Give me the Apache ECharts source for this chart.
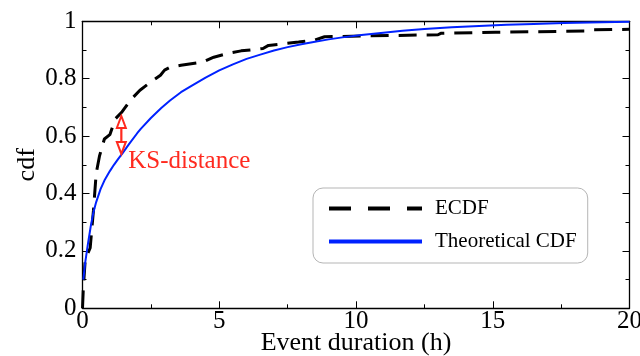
<!DOCTYPE html>
<html>
<head>
<meta charset="utf-8">
<script src="https://cdn.jsdelivr.net/npm/echarts@6/dist/echarts.min.js"></script>
<style>
  html, body { margin: 0; padding: 0; background: #ffffff; }
  #chart { width: 640px; height: 356px; }
</style>
</head>
<body>
<div id="chart"></div>
<script>
// Empirical CDF of event durations (hours, cumulative share)
const ecdfPoints = [
  [0, 0], [0.03, 0.07], [0.1, 0.17], [0.28, 0.21], [0.4, 0.34], [0.5, 0.47],
  [0.62, 0.53], [0.8, 0.59], [1.0, 0.605], [1.2, 0.66], [1.45, 0.685],
  [1.75, 0.725], [2.1, 0.76], [2.45, 0.785], [2.85, 0.812], [3.0, 0.83],
  [3.2, 0.84], [3.6, 0.847], [4.4, 0.858], [4.8, 0.875], [5.4, 0.89],
  [5.8, 0.897], [6.6, 0.905], [6.8, 0.916], [7.45, 0.923], [7.9, 0.928],
  [8.5, 0.935], [8.85, 0.946], [10.2, 0.949], [13.0, 0.953], [13.1, 0.958],
  [15.1, 0.962], [18.4, 0.966], [18.6, 0.97], [20, 0.972]
];

// Fitted (theoretical) CDF
const theoreticalPoints = [
  [0.03, 0.10], [0.1, 0.16], [0.2, 0.225], [0.3, 0.285], [0.4, 0.335],
  [0.5, 0.37], [0.66, 0.415], [0.8, 0.445], [1.0, 0.478], [1.15, 0.50],
  [1.3, 0.52], [1.46, 0.54], [1.7, 0.572], [2.0, 0.61], [2.13, 0.625],
  [2.5, 0.663], [2.88, 0.698], [3.2, 0.724], [3.6, 0.753], [4.0, 0.776],
  [4.5, 0.804], [5.0, 0.829], [5.5, 0.85], [6.0, 0.869], [6.5, 0.884],
  [7.0, 0.898], [7.5, 0.91], [8.0, 0.92], [8.5, 0.929], [9.0, 0.937],
  [9.5, 0.944], [10.2, 0.952], [11, 0.96], [11.7, 0.967], [12.5, 0.973],
  [13.5, 0.979], [14.5, 0.984], [15.5, 0.988], [16.5, 0.991], [17.6, 0.994],
  [19, 0.997], [20, 0.998]
];

// KS-distance marker: x position, lower and upper end
const ksArrow = [[1.42, 0.538, 0.67]];
const ksLabelAt = [1.67, 0.51];
const ksLabel = 'KS-distance';

// Axis ticks
const xTickValues = [0, 5, 10, 15, 20];
const yTickValues = [0, 0.2, 0.4, 0.6, 0.8, 1];

const seriesNames = ['ECDF', 'Theoretical CDF'];

const FONT = "'Liberation Serif', 'DejaVu Serif', serif";
const RED = '#ff2a1f';

function makeX(position, showLabels) {
  return {
    type: 'value',
    position: position,
    min: xTickValues[0],
    max: xTickValues[xTickValues.length - 1],
    interval: xTickValues[1] - xTickValues[0],
    axisLine: { show: true, onZero: false, lineStyle: { color: '#000', width: 1.3 } },
    axisTick: { show: true, inside: true, length: 7, lineStyle: { color: '#000', width: 1 } },
    minorTick: { show: true, splitNumber: 2, length: 4, lineStyle: { color: '#000', width: 1 } },
    splitLine: { show: false },
    minorSplitLine: { show: false },
    axisLabel: {
      show: showLabels, margin: 1, color: '#000', fontFamily: FONT, fontSize: 25,
      formatter: v => String(v)
    },
    name: showLabels ? 'Event duration (h)' : '',
    nameLocation: 'middle',
    nameGap: 22,
    nameMoveOverlap: false,
    nameTextStyle: { color: '#000', fontFamily: FONT, fontSize: 26 }
  };
}

function makeY(position, showLabels) {
  return {
    type: 'value',
    position: position,
    min: yTickValues[0],
    max: yTickValues[yTickValues.length - 1],
    interval: yTickValues[1] - yTickValues[0],
    axisLine: { show: true, onZero: false, lineStyle: { color: '#000', width: 1.3 } },
    axisTick: { show: true, inside: true, length: 7, lineStyle: { color: '#000', width: 1 } },
    minorTick: { show: true, splitNumber: 2, length: 4, lineStyle: { color: '#000', width: 1 } },
    splitLine: { show: false },
    minorSplitLine: { show: false },
    axisLabel: {
      show: showLabels, margin: 6, color: '#000', fontFamily: FONT, fontSize: 25,
      formatter: v => String(Math.round(v * 10) / 10)
    },
    name: showLabels ? 'cdf' : '',
    nameLocation: 'middle',
    nameGap: 42,
    nameMoveOverlap: false,
    nameTextStyle: { color: '#000', fontFamily: FONT, fontSize: 26 }
  };
}

const chart = echarts.init(document.getElementById('chart'), null, { renderer: 'canvas' });

chart.setOption({
  animation: false,
  backgroundColor: '#ffffff',
  grid: {
    left: 82.5, right: 10.5, top: 21.3, bottom: 47.7,
    containLabel: false, outerBoundsMode: 'none'
  },
  xAxis: [makeX('bottom', true), makeX('top', false)],
  yAxis: [makeY('left', true), makeY('right', false)],
  legend: {
    left: 313, top: 188,
    orient: 'vertical',
    itemWidth: 93, itemHeight: 14, itemGap: 12,
    padding: [10, 11, 11, 14],
    borderRadius: 10, borderColor: '#b5b5b5', borderWidth: 1,
    backgroundColor: '#ffffff',
    itemStyle: { opacity: 0 },
    lineStyle: { width: 4 },
    textStyle: { color: '#000', fontFamily: FONT, fontSize: 21, padding: [0, 0, 0, 8] },
    data: [
      { name: seriesNames[0], lineStyle: { type: [22, 17], width: 4 } },
      { name: seriesNames[1], lineStyle: { width: 4 } }
    ]
  },
  series: [
    {
      name: seriesNames[0],
      type: 'line',
      xAxisIndex: 0, yAxisIndex: 0,
      data: ecdfPoints,
      symbol: 'none',
      lineStyle: { color: '#000', width: 3, type: [18, 10], cap: 'butt' },
      itemStyle: { color: '#000' },
      z: 3
    },
    {
      name: seriesNames[1],
      type: 'line',
      xAxisIndex: 0, yAxisIndex: 0,
      data: theoreticalPoints,
      symbol: 'none',
      smooth: false,
      lineStyle: { color: '#0022ff', width: 2 },
      itemStyle: { color: '#0022ff' },
      z: 4
    },
    {
      name: ksLabel,
      type: 'custom',
      xAxisIndex: 0, yAxisIndex: 0,
      data: ksArrow,
      silent: true,
      z: 5,
      renderItem: function (params, api) {
        const x = api.value(0);
        const lo = api.coord([x, api.value(1)]);
        const hi = api.coord([x, api.value(2)]);
        const lab = api.coord(ksLabelAt);
        const hw = 4.5, hh = 12;
        const stroke = { stroke: RED, lineWidth: 2, fill: '#ffffff' };
        return {
          type: 'group',
          children: [
            {
              type: 'line',
              shape: { x1: hi[0], y1: hi[1] + hh, x2: lo[0], y2: lo[1] - hh },
              style: { stroke: RED, lineWidth: 2.2 }
            },
            {
              type: 'polygon',
              shape: { points: [[hi[0], hi[1]], [hi[0] - hw, hi[1] + hh], [hi[0] + hw, hi[1] + hh]] },
              style: stroke
            },
            {
              type: 'polygon',
              shape: { points: [[lo[0], lo[1]], [lo[0] - hw, lo[1] - hh], [lo[0] + hw, lo[1] - hh]] },
              style: stroke
            },
            {
              type: 'text',
              x: lab[0], y: lab[1],
              style: {
                text: ksLabel, fill: RED,
                font: "25px 'Liberation Serif', 'DejaVu Serif', serif",
                align: 'left', verticalAlign: 'middle'
              }
            }
          ]
        };
      }
    }
  ]
});
</script>
</body>
</html>
